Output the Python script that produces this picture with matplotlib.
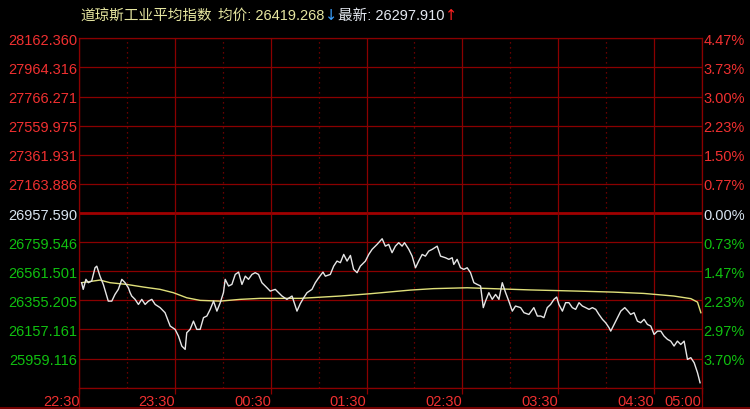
import numpy as np
import matplotlib
matplotlib.use('Agg')
import matplotlib.pyplot as plt
from matplotlib.lines import Line2D

# ---------------- data ----------------
title_name = '道琼斯工业平均指数'
avg_label = '均价: 26419.268'
last_label = '最新: 26297.910'

price_labels = ['28162.360', '27964.316', '27766.271', '27559.975', '27361.931', '27163.886',
                '26957.590', '26759.546', '26561.501', '26355.205', '26157.161', '25959.116', '']
pct_labels = ['4.47%', '3.73%', '3.00%', '2.23%', '1.50%', '0.77%',
              '0.00%', '0.73%', '1.47%', '2.23%', '2.97%', '3.70%', '']

time_labels = ['22:30', '23:30', '00:30', '01:30', '02:30', '03:30', '04:30', '05:00']
time_ticks = [0, 60, 120, 180, 240, 300, 360, 390]   # minutes after 22:30
half_ticks = [30, 90, 150, 210, 270, 330]

y_top = 28162.360
y_mid = 26957.590

t_price = [1.4, 2.4, 4.1, 5.6, 7.7, 9.8, 10.9, 12.9, 15.0, 18.1, 20.3, 22.3, 24.4, 26.6, 28.6,
           30.7, 31.8, 32.8, 34.9, 37.0, 39.1, 41.2, 43.3, 45.4, 47.5, 50.6, 53.7, 56.9, 60.0,
           62.1, 64.2, 66.3, 67.3, 69.4, 71.5, 73.6, 75.7, 77.8, 79.9, 82.0, 84.1, 86.2, 88.3,
           90.3, 91.4, 93.5, 95.6, 97.7, 99.8, 101.9, 104.0, 106.0, 108.2, 110.2, 112.3, 114.4,
           117.6, 119.6, 122.8, 124.9, 127.0, 130.1, 133.3, 136.4, 138.5, 140.6, 142.7, 145.8,
           147.9, 150.0, 152.7, 154.2, 157.3, 159.4, 161.5, 163.6, 165.7, 167.8, 169.9, 171.9,
           174.1, 176.1, 179.3, 181.4, 183.5, 186.6, 189.8, 191.8, 193.9, 196.0, 198.1, 200.2,
           202.3, 203.8, 206.5, 208.6, 210.7, 212.7, 214.9, 216.9, 219.0, 221.2, 224.3, 226.4,
           229.5, 231.6, 233.7, 234.7, 236.8, 238.9, 241.0, 243.1, 245.2, 247.3, 249.4, 251.5,
           253.2, 254.6, 256.7, 258.8, 260.9, 263.0, 265.1, 267.2, 269.2, 271.4, 273.4, 276.6,
           278.7, 281.8, 284.9, 287.1, 289.2, 291.2, 293.3, 295.4, 297.5, 299.2, 300.6, 302.8,
           304.8, 306.9, 309.0, 311.1, 313.2, 315.3, 317.4, 319.5, 321.6, 323.7, 325.7, 327.9,
           329.9, 332.0, 333.1, 335.2, 337.3, 339.4, 341.9, 343.9, 345.6, 347.7, 349.8, 351.9,
           354.0, 356.1, 358.2, 360.3, 362.4, 364.5, 366.5, 368.7, 370.7, 372.8, 374.9, 377.0,
           379.1, 381.2, 383.3, 385.4, 387.5, 389.1]
v_price = [26477, 26431, 26500, 26477, 26488, 26580, 26591, 26522, 26465, 26350, 26350, 26396,
           26431, 26500, 26477, 26442, 26408, 26385, 26362, 26327, 26362, 26327, 26350, 26362,
           26327, 26305, 26270, 26178, 26155, 26109, 26040, 26017, 26132, 26155, 26212, 26155,
           26155, 26236, 26247, 26293, 26350, 26281, 26339, 26408, 26500, 26454, 26465, 26534,
           26550, 26465, 26522, 26500, 26534, 26546, 26534, 26477, 26442, 26419, 26431, 26408,
           26385, 26362, 26385, 26281, 26333, 26373, 26408, 26431, 26477, 26511, 26550, 26522,
           26534, 26591, 26626, 26615, 26672, 26626, 26665, 26569, 26546, 26591, 26626, 26672,
           26707, 26741, 26780, 26729, 26741, 26684, 26729, 26753, 26729, 26753, 26707, 26660,
           26580, 26626, 26672, 26660, 26695, 26707, 26729, 26660, 26649, 26638, 26649, 26603,
           26638, 26580, 26569, 26580, 26546, 26477, 26465, 26454, 26305, 26350, 26408, 26362,
           26396, 26362, 26477, 26408, 26350, 26281, 26316, 26305, 26270, 26258, 26305, 26247,
           26247, 26236, 26305, 26327, 26362, 26378, 26327, 26281, 26339, 26339, 26305, 26293,
           26339, 26316, 26305, 26293, 26305, 26293, 26258, 26224, 26201, 26167, 26143, 26189,
           26236, 26281, 26305, 26281, 26258, 26270, 26212, 26201, 26224, 26189, 26178, 26120,
           26143, 26143, 26109, 26086, 26074, 26040, 26074, 26051, 26074, 25948, 25960, 25925,
           25856, 25787]

t_avg = [1.4, 12.9, 19.2, 29.7, 40.1, 50.6, 58.9, 67.3, 75.7, 88.3, 100.8, 113.4, 138.5, 163.6,
         182.4, 207.5, 222.0, 243.1, 253.4, 282.9, 312.2, 335.0, 353.8, 372.6, 383.3, 387.5, 389.6]
v_avg = [26477, 26495, 26477, 26465, 26447, 26431, 26408, 26373, 26355, 26350, 26362, 26369,
         26369, 26385, 26401, 26426, 26436, 26442, 26438, 26427, 26419, 26412, 26403, 26385,
         26367, 26343, 26270]

# ---------------- style ----------------
BG = 'black'
GRID = '#8a0000'
RED = '#f03030'
GREEN = '#10c010'
ZERO = '#d8e4f0'
NUMFONT = ['Liberation Sans', 'DejaVu Sans']
CJKFONT = ['Liberation Sans', 'Noto Sans CJK SC', 'DejaVu Sans']
ARROWFONT = ['DejaVu Sans']

plt.rcParams['font.family'] = NUMFONT

fig = plt.figure(figsize=(7.5, 4.1), dpi=100, facecolor=BG)
ax = fig.add_axes([79.4 / 750, 21.3 / 410, 622.1 / 750, 349.4 / 410])
ax.set_facecolor(BG)

y_bot = 2 * y_mid - y_top
levels = np.linspace(y_top, y_bot, 13)
ax.set_xlim(0, 390)
ax.set_ylim(y_bot, y_top)

# horizontal grid
for i, lv in enumerate(levels):
    if i == 6:
        ax.axhline(lv, color='#a00000', lw=2.0, zorder=1)
    else:
        ax.axhline(lv, color=GRID, lw=0.9, zorder=1)
# vertical grid
for t in time_ticks:
    ax.axvline(t, color=GRID, lw=0.9, zorder=1)
for t in half_ticks:
    ax.axvline(t, color=GRID, lw=0.9, ls=(0, (1, 3)), zorder=1)

# lines
ax.plot(t_avg, v_avg, color='#e0e07a', lw=1.0, zorder=3)
ax.plot(t_price, v_price, color='#e6e6e6', lw=1.0, zorder=4)

for s in ax.spines.values():
    s.set_color(GRID)
    s.set_linewidth(0.9)

# y tick labels (left)
ax.set_yticks(levels)
ax.set_yticklabels(price_labels)
ax.tick_params(axis='y', length=0, pad=1.5, labelsize=10.5)
for i, lab in enumerate(ax.get_yticklabels()):
    lab.set_color(RED if i < 6 else (ZERO if i == 6 else GREEN))

# right labels
ax2 = ax.twinx()
ax2.set_ylim(y_bot, y_top)
ax2.set_yticks(levels)
ax2.set_yticklabels(pct_labels)
ax2.tick_params(axis='y', length=0, pad=1.5, labelsize=10.5)
for s in ax2.spines.values():
    s.set_visible(False)
for i, lab in enumerate(ax2.get_yticklabels()):
    lab.set_color(RED if i < 6 else (ZERO if i == 6 else GREEN))

# x tick labels
ax.set_xticks(time_ticks)
ax.set_xticklabels(time_labels)
ax.tick_params(axis='x', length=4, width=0.9, color=GRID, pad=0.5, labelsize=10.5,
               labelcolor=RED)
for lab in ax.get_xticklabels():
    lab.set_ha('right')

# frame extensions down to the bottom edge
x0 = 79.4 / 750
x1 = 701.5 / 750
yb = 21.3 / 410
fig.add_artist(Line2D([x0, x0], [0, yb], color=GRID, lw=0.9))
fig.add_artist(Line2D([x1, x1], [0, yb], color=GRID, lw=0.9))
fig.add_artist(Line2D([0, 1], [1.0 / 410, 1.0 / 410], color=GRID, lw=1.2))

# title, placed piece by piece
ty = 1 - 16 / 410
renderer = fig.canvas.get_renderer()
pieces = [(title_name, '#e6e6a0', CJKFONT, 0),
          (avg_label, '#e6e6a0', CJKFONT, 6),
          ('\u2193', '#3aa0ff', ARROWFONT, 0.5),
          (last_label, '#e4e8f0', CJKFONT, 1.5),
          ('\u2191', '#ff2020', ARROWFONT, 0.5)]
xpix = 80.0
for txt, col, fam, gap in pieces:
    xpix += gap
    t = fig.text(xpix / 750, ty, txt, color=col, fontsize=10.5, family=fam, va='center')
    bb = t.get_window_extent(renderer)
    xpix = bb.x1

fig.savefig('out.png', dpi=100, facecolor=BG)
